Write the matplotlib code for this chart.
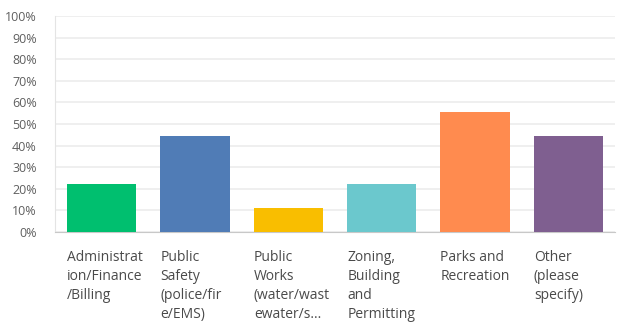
import matplotlib

matplotlib.use("Agg")
import matplotlib.pyplot as plt
import matplotlib.transforms as mtransforms
from matplotlib.ticker import FuncFormatter, MultipleLocator


CATEGORIES = [
    "Administrat\nion/Finance\n/Billing",
    "Public\nSafety\n(police/fir\ne/EMS)",
    "Public\nWorks\n(water/wast\newater/s...",
    "Zoning,\nBuilding\nand\nPermitting",
    "Parks and\nRecreation",
    "Other\n(please\nspecify)",
]
PERCENTS = [22.22, 44.44, 11.11, 22.22, 55.56, 44.44]
COLORS = ["#00bf6f", "#507cb6", "#f9be00", "#6bc8cd", "#ff8b4f", "#7f5f90"]

BAR_WIDTH = 0.74


def main() -> None:
    plt.rcParams["font.family"] = ["Open Sans", "DejaVu Sans"]
    fig = plt.figure(figsize=(6.24, 3.25), dpi=100)
    ax = fig.add_axes([0.0881, 0.2862, 0.8975, 0.6646])

    xs = list(range(len(CATEGORIES)))
    ax.bar(xs, PERCENTS, width=BAR_WIDTH, color=COLORS, zorder=3)

    ax.set_xlim(-0.5, len(CATEGORIES) - 0.5)
    ax.set_ylim(0, 100)
    ax.yaxis.set_major_locator(MultipleLocator(10))
    ax.yaxis.set_major_formatter(FuncFormatter(lambda v, _: f"{v:.0f}%"))
    ax.tick_params(axis="y", length=0, pad=13, labelsize=9, labelcolor="#5f5f5f")
    ax.tick_params(axis="x", length=0, labelbottom=False)

    ax.grid(axis="y", color="#ececec", linewidth=1.2, zorder=0)
    for side in ("top", "right"):
        ax.spines[side].set_visible(False)
    ax.spines["left"].set_color("#e4e4e4")
    ax.spines["bottom"].set_color("#c8c8c8")

    trans = mtransforms.blended_transform_factory(ax.transData, ax.transAxes)
    for x, label in zip(xs, CATEGORIES):
        ax.text(
            x - BAR_WIDTH / 2,
            -0.085,
            label,
            transform=trans,
            ha="left",
            va="top",
            fontsize=10,
            color="#4a4a4a",
            linespacing=1.35,
        )

    fig.savefig("out.png", dpi=100)
    plt.close(fig)


if __name__ == "__main__":
    main()
